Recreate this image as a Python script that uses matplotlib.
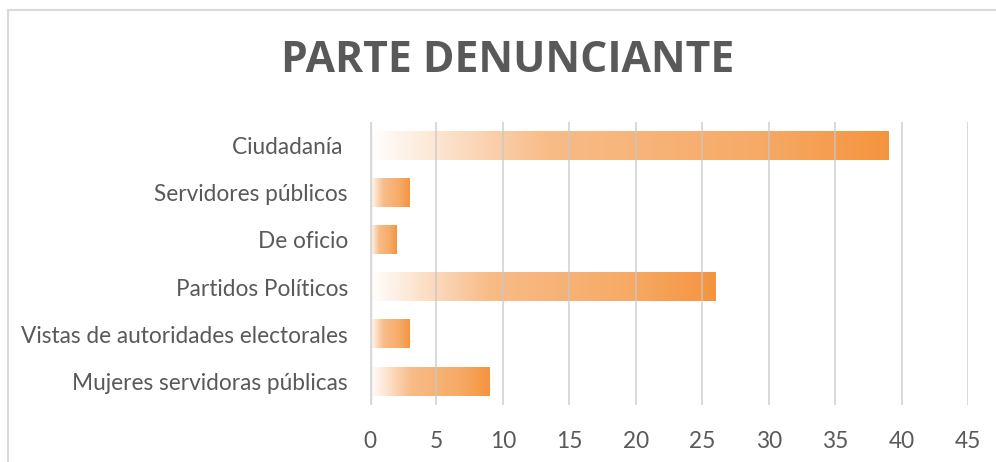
import numpy as np
import matplotlib
matplotlib.use("Agg")
import matplotlib.pyplot as plt
from matplotlib.colors import LinearSegmentedColormap
from matplotlib.patches import Rectangle

categories = ["Ciudadanía ", "Servidores públicos", "De oficio", "Partidos Políticos",
              "Vistas de autoridades electorales", "Mujeres servidoras públicas"]
values = [39, 3, 2, 26, 3, 9]

plt.rcParams['font.family'] = ['Lato', 'DejaVu Sans']

fig = plt.figure(figsize=(9.96, 4.62), dpi=100)
ax = fig.add_axes([370/996, 1-405/462, 598/996, 283/462])

# outer chart border (only left and top visible in the crop)
fig.patches.append(Rectangle((8/996, -0.1), 1.2, 1-10/462+0.1, transform=fig.transFigure,
                             fill=False, edgecolor='#D9D9D9', linewidth=1.5))

cmap = LinearSegmentedColormap.from_list(
    'grad', [(0, '#FFFFFF'), (0.22, '#FAD3B1'), (0.34, '#F8BC88'),
             (0.75, '#F6AA66'), (1, '#F5943F')])
grad = np.linspace(0, 1, 256).reshape(1, -1)

ypos = np.arange(len(categories))[::-1]
h = 0.6
for y, v in zip(ypos, values):
    ax.imshow(grad, cmap=cmap, aspect='auto', extent=(0, v, y - h/2, y + h/2),
              zorder=1, interpolation='bilinear')

ax.set_xlim(0, 45)
ax.set_ylim(-0.5, len(categories) - 0.5)
ax.set_xticks(range(0, 46, 5))
ax.set_yticks(ypos)
ax.set_yticklabels(categories)
ax.grid(axis='x', color='#C8C8C8', linewidth=1.2, alpha=0.8, zorder=2)
ax.set_axisbelow(False)
for s in ax.spines.values():
    s.set_visible(False)
ax.axvline(0, color='#D9D9D9', linewidth=2.5, zorder=3)
ax.tick_params(axis='both', length=0, labelsize=16.3, labelcolor='#595959')
ax.tick_params(axis='x', pad=19)
ax.tick_params(axis='y', pad=16)

fig.text(508/996, 1-61/462, 'PARTE DENUNCIANTE', ha='center', va='center',
         fontsize=30.7, fontweight='bold', color='#595959', family=['Open Sans', 'DejaVu Sans'])

fig.savefig('out.png', dpi=100)
